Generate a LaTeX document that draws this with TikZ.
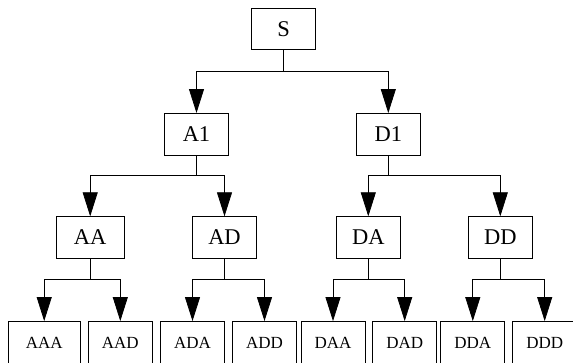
\documentclass[tikz,border=0pt]{standalone}
\usepackage{fontspec}
\setmainfont{Liberation Serif}
\usetikzlibrary{arrows.meta}
\begin{document}
\begin{tikzpicture}[x=1pt,y=-1pt,
  box/.style={draw,line width=0.8pt,inner sep=0pt,minimum width=64pt,minimum height=41.5pt,font=\fontsize{22.5}{25}\selectfont},
  leaf/.style={draw,line width=0.8pt,inner sep=0pt,minimum width=64pt,minimum height=42pt,font=\fontsize{17}{20}\selectfont},
  arr/.style={line width=0.8pt,-{Triangle[width=15pt,length=24pt]}}]
\useasboundingbox (0,0) rectangle (573,363);
\clip (0,0) rectangle (573,363);
% bar levels
\coordinate (b1) at (0,71.7);
\coordinate (b2) at (0,175);
\coordinate (b3) at (0,279.5);
% level 1
\node[box] (S) at (283.7,28.8) {S};
% level 2
\node[box] (A1) at (196.5,134.2) {A1};
\node[box] (D1) at (388.3,134.2) {D1};
% level 3
\node[box,minimum width=68pt] (AA) at (90.2,237.5) {AA};
\node[box] (AD) at (224.5,237.5) {AD};
\node[box] (DA) at (368.3,237.5) {DA};
\node[box] (DD) at (500.3,237.5) {DD};
% leaves
\node[leaf,minimum width=72pt] (AAA) at (44.2,342.5) {AAA};
\node[leaf] (AAD) at (120.3,342.5) {AAD};
\node[leaf] (ADA) at (192.5,342.5) {ADA};
\node[leaf] (ADD) at (264.5,342.5) {ADD};
\node[leaf] (DAA) at (333,342.5) {DAA};
\node[leaf] (DAD) at (404.7,342.5) {DAD};
\node[leaf] (DDA) at (472.8,342.5) {DDA};
\node[leaf] (DDD) at (544.7,342.5) {DDD};
% connectors
\foreach \p/\a/\b/\bar in {S/A1/D1/b1, A1/AA/AD/b2, D1/DA/DD/b2,
    AA/AAA/AAD/b3, AD/ADA/ADD/b3, DA/DAA/DAD/b3, DD/DDA/DDD/b3}{
  \draw[arr] (\p.south) -- (\p.south |- \bar) -| (\a.north);
  \draw[arr] (\p.south) -- (\p.south |- \bar) -| (\b.north);
}
\end{tikzpicture}
\end{document}
